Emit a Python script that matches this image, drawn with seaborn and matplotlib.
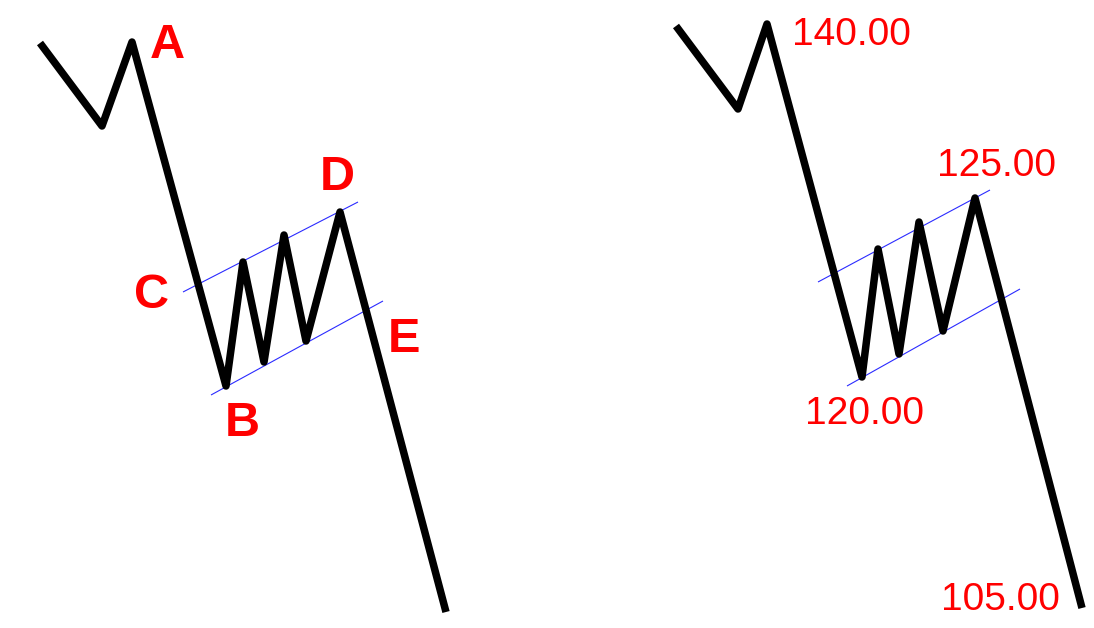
import matplotlib
matplotlib.use("Agg")
import matplotlib.pyplot as plt
import seaborn as sns
import pandas as pd

# ---- data (x = horizontal position, y = vertical position, top = 0) ----
left_path_x = [40, 102, 132, 226, 243, 264, 284, 306, 340, 446]
left_path_y = [43, 126, 42, 386, 262, 362, 235, 341, 212, 612]
left_upper_x = [183, 358]
left_upper_y = [292, 202]
left_lower_x = [211, 383]
left_lower_y = [395, 301]

right_path_x = [676, 738, 767, 862, 878, 899, 919, 943, 975, 1082]
right_path_y = [26, 109, 24, 377, 249, 354, 222, 331, 198, 608]
right_upper_x = [818, 990]
right_upper_y = [282, 190]
right_lower_x = [847, 1020]
right_lower_y = [386, 289]

letter_labels = ["A", "B", "C", "D", "E"]
letter_x = [167, 242, 151, 337, 404]
letter_y = [46, 424, 296, 177, 339]

price_labels = ["140.00", "125.00", "120.00", "105.00"]
price_x = [851, 997, 865, 1000]
price_y = [35, 166, 414, 600]

sns.set_theme(style="white")
plt.rcParams["font.family"] = ["Liberation Sans", "DejaVu Sans"]

fig = plt.figure(figsize=(10.94, 6.28), dpi=100)
ax = fig.add_axes([0, 0, 1, 1])

paths = [
    (left_path_x, left_path_y), (right_path_x, right_path_y),
]
channels = [
    (left_upper_x, left_upper_y), (left_lower_x, left_lower_y),
    (right_upper_x, right_upper_y), (right_lower_x, right_lower_y),
]

for cx, cy in channels:
    df = pd.DataFrame({"x": cx, "y": cy})
    sns.lineplot(data=df, x="x", y="y", sort=False, estimator=None, ax=ax,
                 color="#2b2bff", linewidth=0.8, zorder=1)

for px, py in paths:
    df = pd.DataFrame({"x": px, "y": py})
    sns.lineplot(data=df, x="x", y="y", sort=False, estimator=None, ax=ax,
                 color="black", linewidth=5.4, zorder=2)
for line in ax.lines:
    line.set_solid_joinstyle("round")
    line.set_solid_capstyle("butt")

for t, x, y in zip(letter_labels, letter_x, letter_y):
    ax.text(x, y, t, color="#ff0000", fontsize=35, fontweight="bold",
            ha="center", va="center")
for t, x, y in zip(price_labels, price_x, price_y):
    ax.text(x, y, t, color="#ff0000", fontsize=28, ha="center", va="center")

ax.set_xlim(0, 1094)
ax.set_ylim(628, 0)
ax.set_axis_off()
fig.savefig("out.png", dpi=100, facecolor="white")
